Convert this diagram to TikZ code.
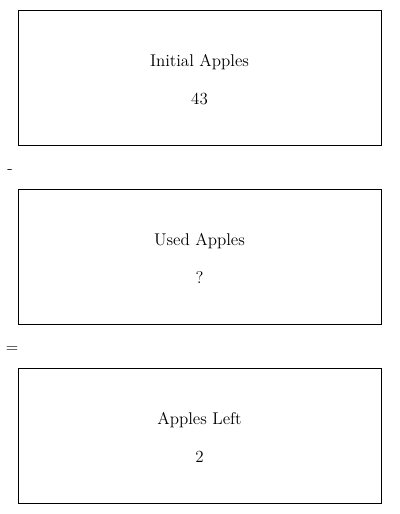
\documentclass[tikz,border=0pt]{standalone}
\usepackage{tikz}
\usetikzlibrary{positioning}

\tikzset{
    applebox/.style={draw=black, thin, minimum width=10.89cm, minimum height=4.05cm},
    appletext/.style={align=center, font=\fontsize{14.5}{17}\selectfont, yshift=-0.06cm},
    opsign/.style={font=\fontsize{14}{17}\selectfont, inner sep=0pt}
}

\begin{document}
\begin{tikzpicture}[x=0.03cm, y=-0.03cm]
    % Canvas
    \useasboundingbox (0,0) rectangle (400,514);

    % Boxes
    \node[applebox] (initial) at (199.5,77.5) {};
    \node[applebox] (used) at (199.5,256.5) {};
    \node[applebox] (left) at (199.5,435.5) {};

    % Box texts
    \node[appletext] (initialtxt) at (initial.center) {Initial Apples\\[15pt]43};
    \node[appletext] (usedtxt) at (used.center) {Used Apples\\[15pt]?};
    \node[appletext] (lefttxt) at (left.center) {Apples Left\\[15pt]2};

    % Operators
    \node[opsign] (minus) at (10,172) {-};
    \node[opsign] (equals) at (12,350) {=};
\end{tikzpicture}
\end{document}
